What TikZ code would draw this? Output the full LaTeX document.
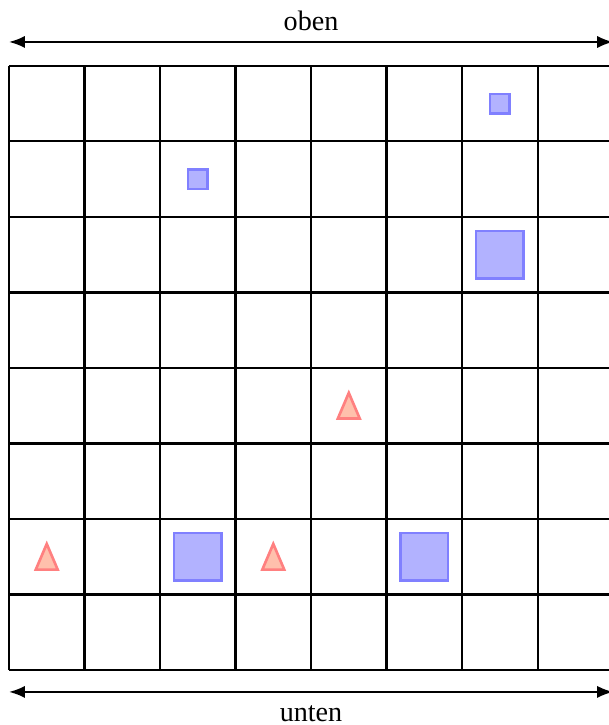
\documentclass[tikz,border=0pt]{standalone}
\usepackage{fontspec}
\setmainfont{Liberation Serif}
\usetikzlibrary{arrows.meta}
\definecolor{trifill}{RGB}{255,192,172}
\begin{document}
\begin{tikzpicture}[scale=1,
    font=\fontsize{10.6pt}{13pt}\selectfont,
    smallsq/.style={draw=blue!50, fill=blue!30, line width=1pt, inner sep=0pt, minimum size=0.26cm},
    bigsq/.style={draw=blue!50, fill=blue!30, line width=1pt, inner sep=0pt, minimum size=0.63cm},
    tri/.style={draw=red!50, fill=trifill, line width=1pt, line join=miter},
    side/.style={{Latex[length=6pt,width=4.6pt]}-{Latex[length=6pt,width=4.6pt]}, line width=0.8pt}
]
    \useasboundingbox (-0.119,-0.728) rectangle (7.937,8.873);

    % Draw board
    \draw[line width=0.8pt] (0,0) grid (8,8);

    % Draw sides
    \coordinate (obenL) at (0,8.317);
    \coordinate (obenR) at (8,8.317);
    \coordinate (untenL) at (0,-0.29);
    \coordinate (untenR) at (8,-0.29);
    \draw[side] (obenL) -- (obenR);
    \draw[side] (untenL) -- (untenR);
    \node (oben) at (4,8.6) {oben};
    \node (unten) at (4,-0.575) {unten};

    % Place squares
    \node[smallsq] (s1) at (6.5,7.5) {};
    \node[smallsq] (s2) at (2.5,6.5) {};
    \node[bigsq] (b1) at (6.5,5.5) {};
    \node[bigsq] (b2) at (2.5,1.5) {};
    \node[bigsq] (b3) at (5.5,1.5) {};

    % Place triangles
    \foreach \p in {(4.5,3.5), (0.5,1.5), (3.5,1.5)}
        \draw[tri] \p ++(0,0.17) -- ++(-0.145,-0.34) -- ++(0.29,0) -- cycle;
\end{tikzpicture}
\end{document}
